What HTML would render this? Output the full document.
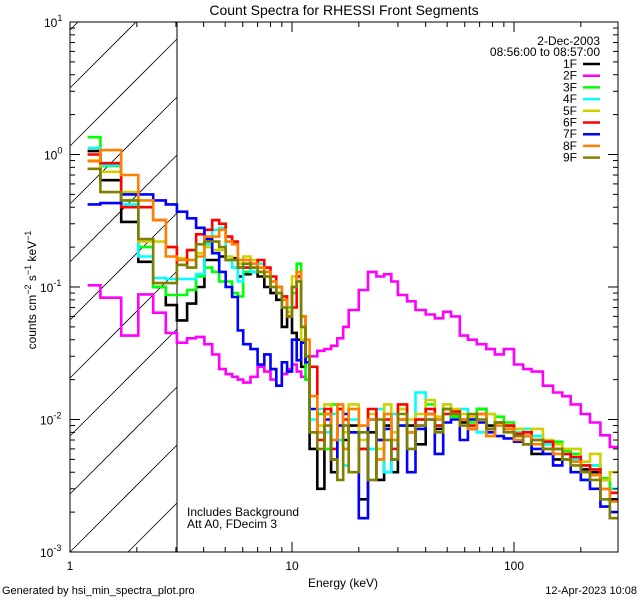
<!DOCTYPE html>
<html><head><meta charset="utf-8"><style>
html,body{margin:0;padding:0;background:#fff;width:640px;height:600px;overflow:hidden;}
svg{display:block;}
svg text{font-family:"Liberation Sans",sans-serif;font-size:12px;fill:#000;}
</style></head><body>
<svg id="chart" width="640" height="600" xmlns="http://www.w3.org/2000/svg">
<rect width="640" height="600" fill="#fff"/>
<defs><clipPath id="pclip"><rect x="70" y="22" width="548" height="530"/></clipPath></defs>
<g id="hatch"></g>
<line x1="177" y1="22" x2="177" y2="552" stroke="#000" stroke-width="1"/>
<g id="series" clip-path="url(#pclip)"></g>
<rect x="70" y="22" width="548" height="530" fill="none" stroke="#000" stroke-width="1"/>
<g id="axes"></g>
<text x="344" y="15" text-anchor="middle" style="font-size:14px">Count Spectra for RHESSI Front Segments</text>
<text x="600" y="45" text-anchor="end">2-Dec-2003</text>
<text x="600" y="56" text-anchor="end">08:56:00 to 08:57:00</text>
<g id="legend"></g>
<text x="187" y="516">Includes Background</text>
<text x="187" y="528">Att A0, FDecim 3</text>
<text x="343" y="587" text-anchor="middle">Energy (keV)</text>
<text transform="translate(36,290) rotate(-90)" text-anchor="middle">counts cm<tspan dy="-5" font-size="9">−2</tspan><tspan dy="5"> s</tspan><tspan dy="-5" font-size="9">−1</tspan><tspan dy="5"> keV</tspan><tspan dy="-5" font-size="9">−1</tspan></text>
<text x="2" y="594" style="font-size:11px">Generated by hsi_min_spectra_plot.pro</text>
<text x="637" y="594" text-anchor="end" style="font-size:11px">12-Apr-2023 10:08</text>
</svg>
<script>
const edges=[1.2,1.37,1.7,2.03,2.37,2.7,3.03,3.37,3.7,4.03,4.37,4.7,5.03,5.37,5.7,6.03,6.5,7,7.5,8,8.5,9,9.5,10,10.5,11,11.5,12,13,14,15,16,17,18,20,22,24,26,28,30,33,36,40,44,48,52,57,62,68,75,82,90,100,110,120,135,150,165,180,200,220,245,270,294];
const seriesNames=["1F","2F","3F","4F","5F","6F","7F","8F","9F"];
const seriesColors=["#000000","#ff00ff","#00ff00","#00ffff","#d0d000","#ff0000","#0000ff","#ff8000","#808000"];
const s1F=[1.06,0.64,0.31,0.155,0.10,0.073,0.056,0.075,0.1,0.16,0.16,0.17,0.16,0.165,0.12,0.125,0.13,0.12,0.10,0.09,0.08,0.05,0.06,0.045,0.04,0.025,0.03,0.006,0.003,0.011,0.004,0.012,0.007,0.009,0.0025,0.008,0.0035,0.009,0.004,0.01,0.009,0.0065,0.011,0.0085,0.012,0.0105,0.0095,0.0085,0.012,0.009,0.0095,0.0085,0.008,0.0075,0.0055,0.0068,0.005,0.0055,0.0048,0.0042,0.004,0.0035,0.0025];
const s2F=[0.103,0.083,0.043,0.088,0.064,0.045,0.038,0.041,0.042,0.037,0.031,0.024,0.022,0.021,0.020,0.019,0.021,0.025,0.023,0.020,0.018,0.022,0.024,0.026,0.023,0.021,0.020,0.030,0.033,0.034,0.036,0.041,0.050,0.067,0.095,0.13,0.12,0.125,0.11,0.087,0.078,0.067,0.062,0.058,0.065,0.06,0.043,0.04,0.037,0.034,0.031,0.034,0.026,0.024,0.023,0.018,0.016,0.015,0.013,0.011,0.0095,0.0076,0.0062];
const s3F=[1.35,0.82,0.45,0.2,0.1,0.087,0.087,0.095,0.12,0.14,0.13,0.11,0.11,0.09,0.085,0.13,0.14,0.13,0.12,0.11,0.09,0.08,0.07,0.09,0.15,0.05,0.02,0.008,0.011,0.006,0.013,0.009,0.006,0.012,0.006,0.01,0.005,0.011,0.007,0.012,0.008,0.01,0.013,0.009,0.012,0.0105,0.01,0.0095,0.012,0.0085,0.0105,0.0095,0.008,0.0085,0.0075,0.0065,0.0068,0.0058,0.0055,0.0045,0.0045,0.0036,0.003];
const s4F=[1.12,0.83,0.42,0.17,0.117,0.115,0.115,0.115,0.125,0.21,0.27,0.28,0.16,0.14,0.11,0.14,0.13,0.15,0.12,0.1,0.09,0.07,0.065,0.1,0.12,0.04,0.03,0.01,0.012,0.008,0.011,0.007,0.0045,0.01,0.008,0.006,0.012,0.004,0.011,0.009,0.008,0.016,0.012,0.01,0.013,0.011,0.012,0.01,0.008,0.011,0.0095,0.009,0.008,0.0085,0.0075,0.0065,0.006,0.0055,0.005,0.0035,0.0045,0.0025,0.003];
const s5F=[0.9,0.74,0.52,0.22,0.22,0.2,0.165,0.16,0.18,0.2,0.19,0.19,0.17,0.16,0.15,0.17,0.16,0.14,0.12,0.11,0.1,0.08,0.065,0.12,0.11,0.04,0.03,0.015,0.009,0.013,0.007,0.012,0.008,0.013,0.007,0.011,0.006,0.013,0.008,0.012,0.01,0.011,0.014,0.0105,0.013,0.012,0.011,0.0105,0.01,0.011,0.0095,0.009,0.0085,0.008,0.0085,0.007,0.0065,0.006,0.006,0.0048,0.0055,0.0035,0.004];
const s6F=[1.0,0.86,0.4,0.4,0.32,0.2,0.147,0.19,0.25,0.27,0.32,0.3,0.24,0.22,0.14,0.14,0.15,0.16,0.14,0.12,0.1,0.085,0.06,0.07,0.12,0.06,0.03,0.025,0.007,0.012,0.006,0.012,0.01,0.008,0.006,0.012,0.007,0.01,0.006,0.013,0.008,0.01,0.012,0.009,0.011,0.0115,0.01,0.009,0.011,0.0085,0.0095,0.009,0.0078,0.008,0.007,0.0068,0.006,0.0055,0.0052,0.0045,0.0042,0.003,0.0028];
const s7F=[0.42,0.43,0.5,0.5,0.45,0.42,0.37,0.33,0.28,0.23,0.18,0.13,0.10,0.084,0.047,0.037,0.034,0.026,0.031,0.024,0.018,0.027,0.023,0.04,0.028,0.038,0.027,0.012,0.008,0.010,0.005,0.009,0.011,0.008,0.0018,0.010,0.007,0.0085,0.005,0.009,0.004,0.0085,0.010,0.0055,0.0095,0.010,0.007,0.010,0.0095,0.008,0.0075,0.0072,0.0068,0.0065,0.006,0.0055,0.0045,0.005,0.004,0.0035,0.003,0.0022,0.002];
const s8F=[0.89,1.08,0.7,0.45,0.32,0.17,0.16,0.16,0.17,0.24,0.24,0.27,0.22,0.21,0.16,0.16,0.15,0.14,0.13,0.11,0.1,0.08,0.06,0.1,0.13,0.06,0.04,0.015,0.008,0.011,0.007,0.013,0.006,0.012,0.009,0.01,0.005,0.011,0.007,0.01,0.008,0.009,0.011,0.01,0.012,0.011,0.01,0.0085,0.011,0.0075,0.009,0.0085,0.007,0.0075,0.0065,0.006,0.0055,0.005,0.0048,0.004,0.0038,0.003,0.0024];
const s9F=[0.78,0.52,0.45,0.23,0.107,0.107,0.147,0.14,0.21,0.22,0.22,0.2,0.16,0.16,0.14,0.15,0.14,0.13,0.12,0.1,0.09,0.07,0.06,0.1,0.11,0.05,0.03,0.008,0.006,0.009,0.005,0.0035,0.009,0.004,0.008,0.0035,0.01,0.007,0.005,0.011,0.006,0.009,0.01,0.008,0.012,0.011,0.009,0.011,0.01,0.0085,0.0095,0.008,0.0075,0.0065,0.007,0.006,0.006,0.005,0.0045,0.004,0.0035,0.0025,0.0018];
const xTickLabels=["1","10","100"];
const yTickExps=["-3","-2","-1","0","1"];

const NS="http://www.w3.org/2000/svg";
const X0=70,X1=618,Y0=22,Y1=552,XH=177;
const xMinL=0, xMaxL=(X1-X0)/222;
const yMinL=-3,yMaxL=1;
function xs(e){return X0+(Math.log10(e)-xMinL)/(xMaxL-xMinL)*(X1-X0);}
function ys(v){return Y1-(Math.log10(v)-yMinL)/(yMaxL-yMinL)*(Y1-Y0);}
function mk(tag,attrs,parent){const el=document.createElementNS(NS,tag);for(const k in attrs)el.setAttribute(k,attrs[k]);parent.appendChild(el);return el;}

// hatch lines (y = b - (x - X0)), clipped analytically to hatched box
const hatch=document.getElementById('hatch');
for(let k=-2;k<12;k++){
  const b=Y1-k*58;
  const xa=Math.max(X0, X0+(b-Y1));
  const xb=Math.min(XH, X0+(b-Y0));
  if(xb<=xa)continue;
  const l=mk('line',{x1:xa,y1:b-(xa-X0),x2:xb,y2:b-(xb-X0),stroke:'#000','stroke-width':0.8},hatch);
  
  
}

const allSeries=[s1F,s2F,s3F,s4F,s5F,s6F,s7F,s8F,s9F];
const sg=document.getElementById('series');
allSeries.forEach((vals,i)=>{
  let d='';
  for(let j=0;j<vals.length;j++){
    const xa=xs(edges[j]).toFixed(1),xb=Math.min(X1,xs(edges[j+1])).toFixed(1),y=ys(vals[j]).toFixed(1);
    d+=(j===0?'M':'L')+xa+','+y+'L'+xb+','+y;
  }
  const p=mk('path',{d:d,fill:'none',stroke:seriesColors[i],'stroke-width':2.6,'stroke-linejoin':'miter'},sg);
  
  
});

const ax=document.getElementById('axes');
for(let dec=0;dec<3;dec++){
  for(let m=1;m<10;m++){
    const e=m*Math.pow(10,dec);
    const x=xs(e); if(x>X1+0.5)break;
    const len=m===1?10:5;
    const t1=mk('line',{x1:x,y1:Y1,x2:x,y2:Y1-len,stroke:'#000'},ax);
    
    
    const t2=mk('line',{x1:x,y1:Y0,x2:x,y2:Y0+len,stroke:'#000'},ax);
    
    
  }
}
xTickLabels.forEach(s=>{
  const t=mk('text',{x:xs(parseFloat(s)),y:570,'text-anchor':'middle'},ax);
  t.textContent=s;
  
  
});
for(let dec=-3;dec<1;dec++){
  for(let m=1;m<10;m++){
    const y=ys(m*Math.pow(10,dec));
    const len=m===1?10:5;
    const a=mk('line',{x1:X0,y1:y,x2:X0+len,y2:y,stroke:'#000'},ax);
    
    
    const b=mk('line',{x1:X1,y1:y,x2:X1-len,y2:y,stroke:'#000'},ax);
    
    
  }
}
yTickExps.forEach(s=>{
  const y=ys(Math.pow(10,parseFloat(s)));
  const t=mk('text',{x:s.length>1?40:44,y:y+5,'text-anchor':'start'},ax);
  
  
  t.innerHTML='10<tspan dy="-6" font-size="9">'+s+'</tspan>';
});

const lg=document.getElementById('legend');
seriesNames.forEach((n,i)=>{
  const y=64+i*11.7;
  const t=mk('text',{x:577,y:y+4,'text-anchor':'end'},lg);
  t.textContent=n;
  
  
  const l=mk('line',{x1:583,y1:y,x2:600,y2:y,stroke:seriesColors[i],'stroke-width':2.5},lg);
  
  
});
</script>
</body></html>
